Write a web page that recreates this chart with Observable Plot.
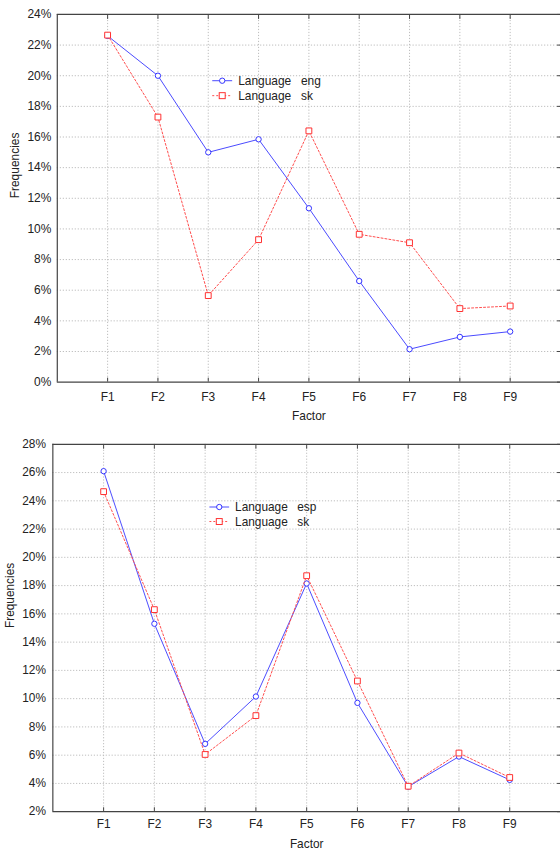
<!DOCTYPE html>
<html>
<head>
<meta charset="utf-8">
<script src="https://cdn.jsdelivr.net/npm/d3@7"></script>
<script src="https://cdn.jsdelivr.net/npm/@observablehq/plot@0.6"></script>
<style>
  html, body { margin: 0; padding: 0; background: white; overflow: hidden; }
  #wrap { width: 560px; height: 856px; overflow: hidden; }
  #wrap svg { display: block; }
</style>
</head>
<body>
<div id="wrap"></div>
<script>
// ---- data ----
const factors = ["F1", "F2", "F3", "F4", "F5", "F6", "F7", "F8", "F9"];
const langTopA = "eng";
const langTopB = "sk";
const topEng = [22.6, 20.0, 15.0, 15.85, 11.35, 6.6, 2.15, 2.95, 3.3];
const topSk  = [22.65, 17.3, 5.65, 9.3, 16.4, 9.65, 9.1, 4.8, 4.97];
const langBotA = "esp";
const langBotB = "sk";
const botEsp = [26.1, 15.3, 6.8, 10.15, 18.15, 9.7, 3.77, 5.9, 4.25];
const botSk  = [24.65, 16.3, 6.05, 8.8, 18.7, 11.25, 3.8, 6.15, 4.42];
const yTicksTop = [0, 2, 4, 6, 8, 10, 12, 14, 16, 18, 20, 22, 24];
const yTicksBot = [2, 4, 6, 8, 10, 12, 14, 16, 18, 20, 22, 24, 26, 28];
const xTitle = "Factor";
const yTitle = "Frequencies";
const seriesPrefix = "Language";

const FONT = "'Liberation Sans', Arial, sans-serif";
const BLUE = "#4a4aff", BLUE_M = "#3434ff";
const RED = "#ff4d4d", RED_M = "#ff3030";
const AXIS = "#444";
const GRID = "#bdbdbd";
const TEXT = "#222";

function panel(o) {
  const rowsA = o.a.map((v, i) => ({f: i + 1, v}));
  const rowsB = o.b.map((v, i) => ({f: i + 1, v}));
  const xTicks = factors.map((_, i) => i + 1);
  const yMin = o.yTicks[0], yMax = o.yTicks[o.yTicks.length - 1];
  const svg = Plot.plot({
    width: o.width, height: o.height,
    marginTop: o.marginTop, marginBottom: o.marginBottom,
    marginLeft: o.marginLeft, marginRight: 0,
    style: {fontFamily: FONT, fontSize: "12px", color: TEXT, background: "white", overflow: "visible"},
    x: {domain: [0, 10], axis: null},
    y: {domain: [yMin, yMax], axis: null},
    marks: [
      Plot.gridX({ticks: xTicks, stroke: GRID, strokeOpacity: 1, strokeDasharray: "1.2,1.8"}),
      Plot.gridY({ticks: o.yTicks.slice(1, -1), stroke: GRID, strokeOpacity: 1, strokeDasharray: "1.2,1.8"}),
      // inward ticks on all four sides
      Plot.axisX({ticks: xTicks, anchor: "bottom", tickSize: -4, tickFormat: () => "", label: null, stroke: AXIS}),
      Plot.axisX({ticks: xTicks, anchor: "top", tickSize: -4, tickFormat: () => "", label: null, stroke: AXIS}),
      Plot.axisY({ticks: o.yTicks, anchor: "right", tickSize: -4, tickFormat: () => "", label: null, stroke: AXIS}),
      // labels
      Plot.axisX({ticks: xTicks, anchor: "bottom", tickSize: 0, tickPadding: o.xPad, tickFormat: d => factors[d - 1], label: null, fill: TEXT}),
      Plot.axisY({ticks: o.yTicks, anchor: "left", tickSize: 0, tickPadding: o.yPad, tickFormat: d => d + "%", label: null, fill: TEXT}),
      // frame lines
      Plot.ruleY([yMin], {stroke: AXIS, strokeWidth: 1.2}),
      Plot.ruleY([yMax], {stroke: AXIS, strokeWidth: 1.2}),
      Plot.ruleX([0], {stroke: AXIS, strokeWidth: 1.2}),
      // series
      Plot.line(rowsA, {x: "f", y: "v", stroke: BLUE, strokeWidth: 1}),
      Plot.dot(rowsA, {x: "f", y: "v", r: 2.7, stroke: BLUE_M, fill: "white", strokeWidth: 1}),
      Plot.line(rowsB, {x: "f", y: "v", stroke: RED, strokeWidth: 1, strokeDasharray: "2,2"}),
      Plot.dot(rowsB, {x: "f", y: "v", symbol: "square", r: 3.3, stroke: RED_M, fill: "white", strokeWidth: 1}),
      // axis titles
      Plot.text([xTitle], {text: d => d, frameAnchor: "bottom", dy: o.xTitleDy, lineAnchor: "bottom", fill: TEXT, fontSize: 12}),
      Plot.text([yTitle], {text: d => d, frameAnchor: "left", rotate: -90, dx: o.yTitleDx, lineAnchor: "bottom", fill: TEXT, fontSize: 12})
    ]
  });
  // legend
  const g = d3.select(svg).append("g")
    .attr("font-family", FONT).attr("font-size", 12).attr("fill", TEXT)
    .attr("text-anchor", "start");
  const items = [
    {name: o.nameA, stroke: BLUE, mark: BLUE_M, dash: null, sym: "circle"},
    {name: o.nameB, stroke: RED, mark: RED_M, dash: "2,2", sym: "square"}
  ];
  items.forEach((it, k) => {
    const y = o.legY + k * o.legStep;
    const lx = o.legX;
    g.append("line").attr("x1", lx).attr("x2", lx + 20).attr("y1", y).attr("y2", y)
      .attr("stroke", it.stroke).attr("stroke-dasharray", it.dash);
    if (it.sym === "circle") {
      g.append("circle").attr("cx", lx + 10).attr("cy", y).attr("r", 2.7)
        .attr("fill", "white").attr("stroke", it.mark);
    } else {
      g.append("rect").attr("x", lx + 7).attr("y", y - 3).attr("width", 6).attr("height", 6)
        .attr("fill", "white").attr("stroke", it.mark);
    }
    g.append("text").attr("x", lx + 26).attr("y", y).attr("dy", "0.35em")
      .attr("text-anchor", "start").text(seriesPrefix);
    g.append("text").attr("x", lx + 89).attr("y", y).attr("dy", "0.35em")
      .attr("text-anchor", "start").text(it.name);
  });
  return svg;
}

const wrap = document.getElementById("wrap");
wrap.appendChild(panel({
  a: topEng, b: topSk, nameA: langTopA, nameB: langTopB, yTicks: yTicksTop,
  width: 562, height: 430, marginTop: 14, marginBottom: 47, marginLeft: 57,
  xPad: 10, yPad: 6, xTitleDy: 38, yTitleDx: -38.5,
  legX: 213, legY: 81, legStep: 15
}));
wrap.appendChild(panel({
  a: botEsp, b: botSk, nameA: langBotA, nameB: langBotB, yTicks: yTicksBot,
  width: 567, height: 426, marginTop: 16, marginBottom: 38, marginLeft: 53,
  xPad: 8, yPad: 7, xTitleDy: 37, yTitleDx: -39,
  legX: 212, legY: 80, legStep: 14.7
}));
</script>
</body>
</html>
